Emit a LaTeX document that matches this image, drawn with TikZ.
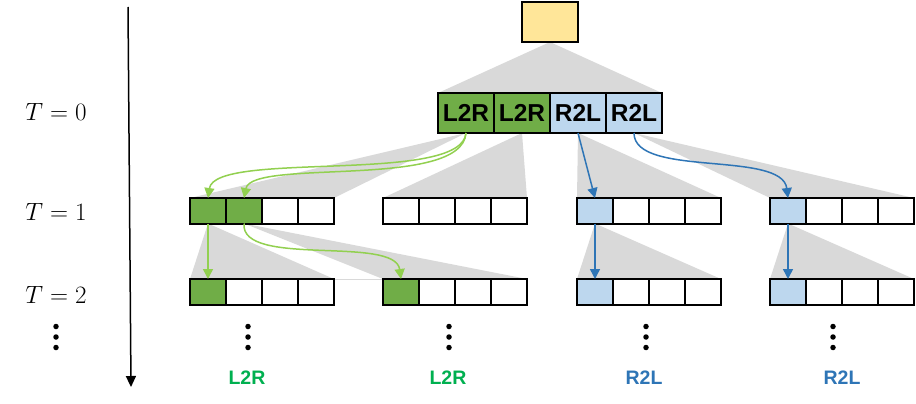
\documentclass[tikz,border=0pt]{standalone}
\usepackage{fix-cm}
\usepackage{fontspec}
\newfontfamily\arialf{Liberation Sans}
\usetikzlibrary{arrows.meta,backgrounds}
\definecolor{gfill}{HTML}{70AD47}
\definecolor{bfill}{HTML}{BDD7EE}
\definecolor{yfill}{HTML}{FFE699}
\definecolor{tgray}{HTML}{D9D9D9}
\definecolor{garr}{HTML}{92D050}
\definecolor{barr}{HTML}{2E75B6}
\definecolor{glab}{HTML}{00B050}
\begin{document}
\begin{tikzpicture}[x=1pt,y=-1pt,
  bigcell/.style={draw, line width=2pt, minimum width=56pt, minimum height=40pt, inner sep=0pt, outer sep=0pt,
    font=\arialf\bfseries\fontsize{24.5}{28}\selectfont},
  cell/.style={draw, line width=2pt, minimum width=36pt, minimum height=25.5pt, inner sep=0pt, outer sep=0pt},
  cp11/.style={fill=gfill}, cp12/.style={fill=gfill}, cp31/.style={fill=bfill}, cp41/.style={fill=bfill},
  cq11/.style={fill=gfill}, cq21/.style={fill=gfill}, cq31/.style={fill=bfill}, cq41/.style={fill=bfill},
  tri/.style={fill=tgray, draw=none},
  garrow/.style={draw=garr, line width=1.5pt, -{Triangle[length=10pt,width=10pt]}},
  barrow/.style={draw=barr, line width=1.5pt, -{Triangle[length=10pt,width=10pt]}},
  tlab/.style={font=\fontsize{25}{30}\selectfont},
  blab/.style={font=\arialf\bfseries\fontsize{19.5}{23}\selectfont},
  dotn/.style={circle, fill=black, inner sep=0pt, minimum size=5.5pt},
]
\useasboundingbox (0,0) rectangle (916,404);

% top box
\node[bigcell, fill=yfill] (top) at (550,22) {};
% row 0
\node[bigcell, fill=gfill] (r1) at (466,113) {L2R};
\node[bigcell, fill=gfill] (r2) at (522,113) {L2R};
\node[bigcell, fill=bfill] (r3) at (578,113) {R2L};
\node[bigcell, fill=bfill] (r4) at (634,113) {R2L};

% rows 1 and 2
\foreach \g/\s in {1/190,2/383,3/577,4/770}{
  \foreach \i in {1,...,4}{
    \node[cell, cp\g\i/.try] (p\g-\i) at ({\s+18+36*(\i-1)},210.75) {};
    \node[cell, cq\g\i/.try] (q\g-\i) at ({\s+18+36*(\i-1)},291.75) {};
  }
}

% gray fans
\begin{scope}[on background layer]
  \fill[tri] (top.south) -- (r1.north west) -- (r4.north east) -- cycle;
  \fill[tri] (r1.south) -- (p1-1.north west) -- (p1-4.north east) -- cycle;
  \fill[tri] (r2.south) -- (p2-1.north west) -- (p2-4.north east) -- cycle;
  \fill[tri] (r3.south) -- (p3-1.north west) -- (p3-4.north east) -- cycle;
  \fill[tri] (r4.south) -- (p4-1.north west) -- (p4-4.north east) -- cycle;
  \fill[tri] (p1-1.south) -- (q1-1.north west) -- (q1-4.north east) -- cycle;
  \fill[tri] (p1-2.south) -- (q2-1.north west) -- (q2-4.north east) -- cycle;
  \fill[tri] (p3-1.south) -- (q3-1.north west) -- (q3-4.north east) -- cycle;
  \fill[tri] (p4-1.south) -- (q4-1.north west) -- (q4-4.north east) -- cycle;
  \draw[tgray, line width=0.6pt] (q1-4.north east) -- (q2-1.north west);
\end{scope}

% arrows
\draw[garrow] (r1.south) .. controls (462,185) and (215,150) .. (p1-1.north);
\draw[garrow] (r1.south) .. controls (462,190) and (252,158) .. (p1-2.north);
\draw[garrow] (p1-1.south) -- (q1-1.north);
\draw[garrow] (p1-2.south) .. controls (240,268) and (395,235) .. (q2-1.north);
\draw[barrow] (r3.south) -- (p3-1.north);
\draw[barrow] (r4.south) .. controls (634,178) and (782,150) .. (p4-1.north);
\draw[barrow] (p3-1.south) -- (q3-1.north);
\draw[barrow] (p4-1.south) -- (q4-1.north);

% time axis
\coordinate (ax0) at (128,7);
\coordinate (ax1) at (131,387);
\draw[line width=1.5pt, -{Triangle[length=11pt,width=10pt]}] (ax0) -- (ax1);

% T labels
\node[tlab] (t0) at (56,112) {$T=0$};
\node[tlab] (t1) at (56,212) {$T=1$};
\node[tlab] (t2) at (56,295) {$T=2$};

% vertical dots
\foreach \n/\x in {l/56,a/248,b/449,c/646,d/833}{
  \node[dotn] (\n1) at (\x,326.5) {};
  \node[dotn] (\n2) at (\x,337) {};
  \node[dotn] (\n3) at (\x,347.5) {};
}

% bottom labels
\node[blab, text=glab] (la) at (247,378) {L2R};
\node[blab, text=glab] (lb) at (448,378) {L2R};
\node[blab, text=barr] (lc) at (644,378) {R2L};
\node[blab, text=barr] (ld) at (842,378) {R2L};
\end{tikzpicture}
\end{document}
